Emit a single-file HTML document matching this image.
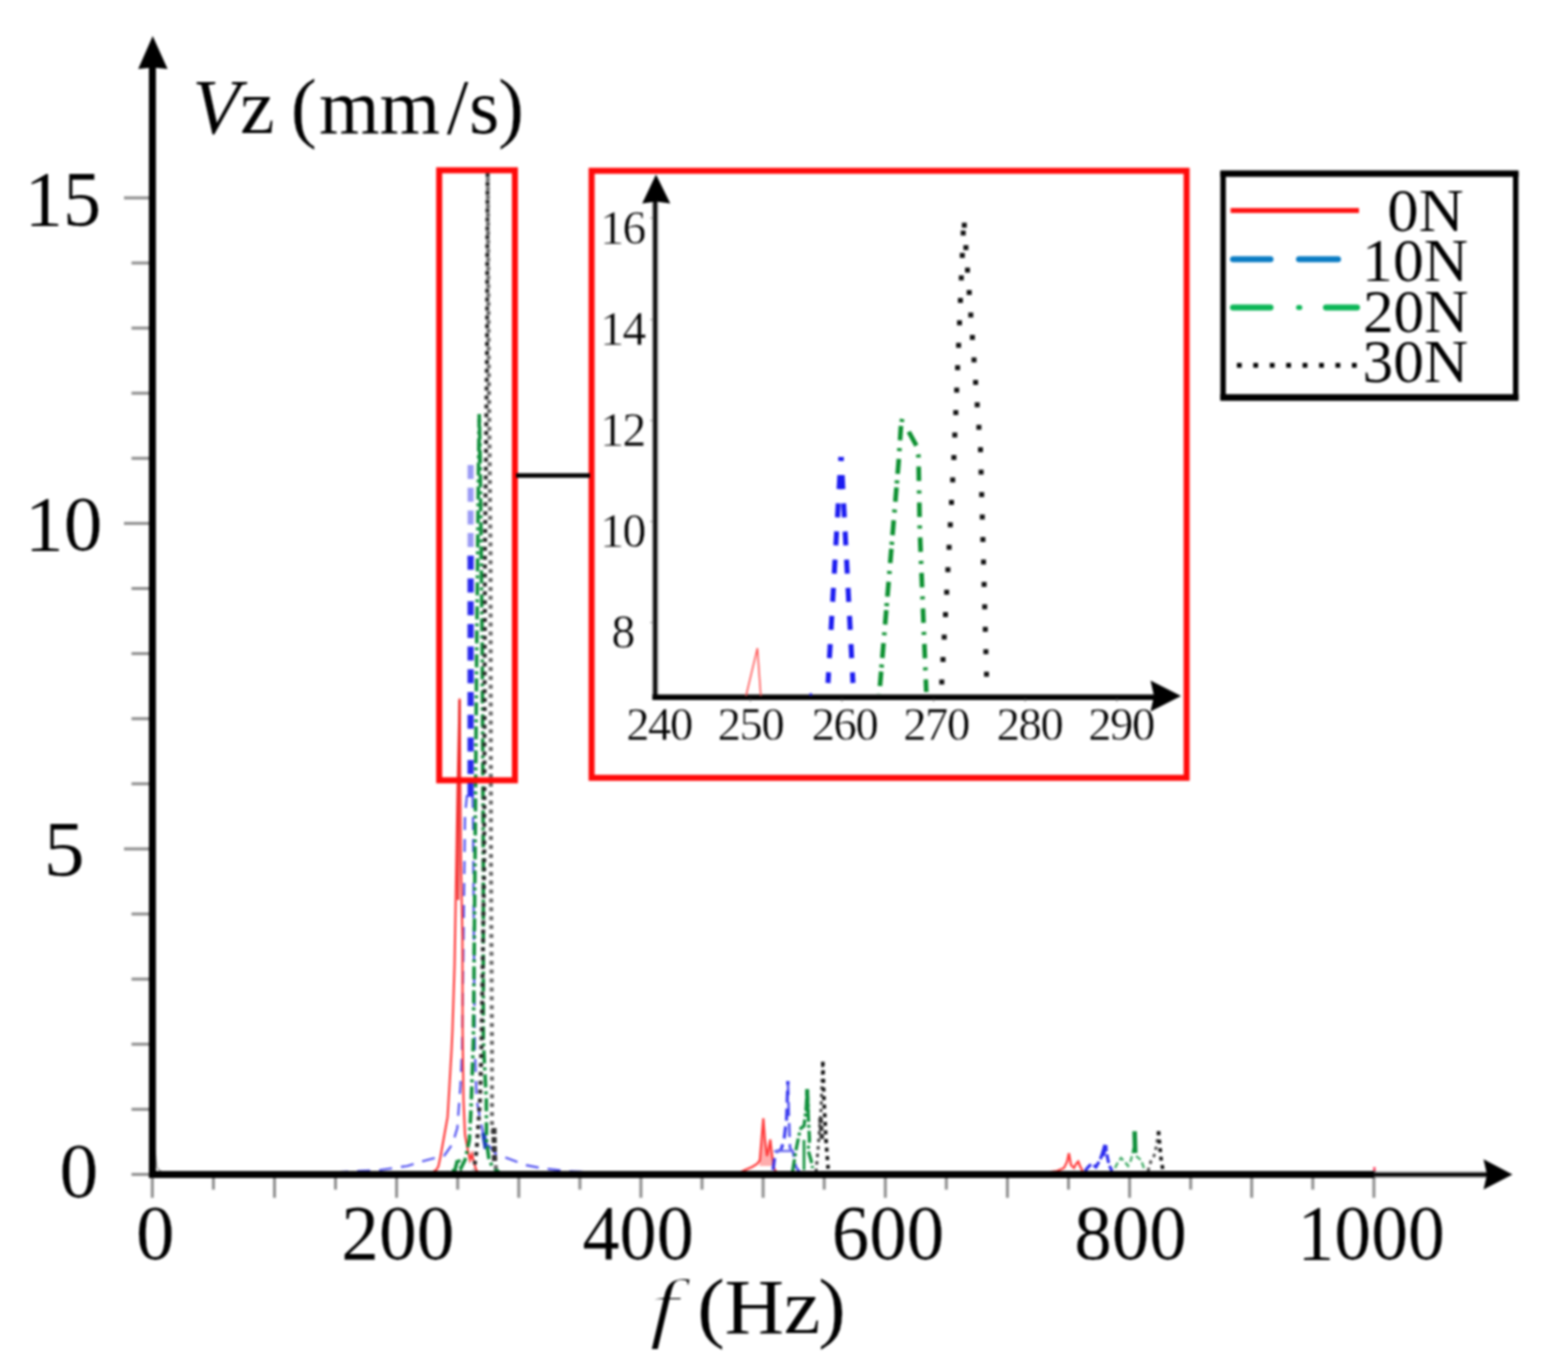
<!DOCTYPE html>
<html lang="en"><head><meta charset="utf-8"><title>Vz spectrum</title>
<style>html,body{margin:0;padding:0;background:#fff;}body{width:1547px;height:1367px;overflow:hidden;}svg{display:block;}text{font-family:"Liberation Serif", "DejaVu Serif", serif;fill:#000;}</style>
</head><body>
<svg width="1547" height="1367" viewBox="0 0 1547 1367">
<defs><filter id="soft" x="0" y="0" width="100%" height="100%" filterUnits="userSpaceOnUse" color-interpolation-filters="sRGB"><feGaussianBlur stdDeviation="0.8"/></filter></defs>
<rect x="0" y="0" width="1547" height="1367" fill="#ffffff"/>
<g filter="url(#soft)">
<g stroke="#909090" stroke-width="3" fill="none">
<line x1="131.5" y1="1174.4" x2="150" y2="1174.4"/>
<line x1="131.5" y1="1109.3" x2="150" y2="1109.3"/>
<line x1="131.5" y1="1044.2" x2="150" y2="1044.2"/>
<line x1="131.5" y1="979.1" x2="150" y2="979.1"/>
<line x1="131.5" y1="914.0" x2="150" y2="914.0"/>
<line x1="124.0" y1="848.9" x2="150" y2="848.9"/>
<line x1="131.5" y1="783.8" x2="150" y2="783.8"/>
<line x1="131.5" y1="718.7" x2="150" y2="718.7"/>
<line x1="131.5" y1="653.6" x2="150" y2="653.6"/>
<line x1="131.5" y1="588.5" x2="150" y2="588.5"/>
<line x1="124.0" y1="523.4" x2="150" y2="523.4"/>
<line x1="131.5" y1="458.3" x2="150" y2="458.3"/>
<line x1="131.5" y1="393.2" x2="150" y2="393.2"/>
<line x1="131.5" y1="328.1" x2="150" y2="328.1"/>
<line x1="131.5" y1="263.0" x2="150" y2="263.0"/>
<line x1="124.0" y1="197.9" x2="150" y2="197.9"/>
<line x1="152.3" y1="1176" x2="152.3" y2="1197.8"/>
<line x1="213.4" y1="1176" x2="213.4" y2="1189.6"/>
<line x1="274.5" y1="1176" x2="274.5" y2="1197.8"/>
<line x1="335.5" y1="1176" x2="335.5" y2="1189.6"/>
<line x1="396.6" y1="1176" x2="396.6" y2="1197.8"/>
<line x1="457.7" y1="1176" x2="457.7" y2="1189.6"/>
<line x1="518.8" y1="1176" x2="518.8" y2="1197.8"/>
<line x1="579.9" y1="1176" x2="579.9" y2="1189.6"/>
<line x1="640.9" y1="1176" x2="640.9" y2="1197.8"/>
<line x1="702.0" y1="1176" x2="702.0" y2="1189.6"/>
<line x1="763.1" y1="1176" x2="763.1" y2="1197.8"/>
<line x1="824.2" y1="1176" x2="824.2" y2="1189.6"/>
<line x1="885.3" y1="1176" x2="885.3" y2="1197.8"/>
<line x1="946.3" y1="1176" x2="946.3" y2="1189.6"/>
<line x1="1007.4" y1="1176" x2="1007.4" y2="1197.8"/>
<line x1="1068.5" y1="1176" x2="1068.5" y2="1189.6"/>
<line x1="1129.6" y1="1176" x2="1129.6" y2="1197.8"/>
<line x1="1190.7" y1="1176" x2="1190.7" y2="1189.6"/>
<line x1="1251.7" y1="1176" x2="1251.7" y2="1197.8"/>
<line x1="1312.8" y1="1176" x2="1312.8" y2="1189.6"/>
<line x1="1373.9" y1="1176" x2="1373.9" y2="1197.8"/>
</g>
<path d="M153.0,1172.0 L155.0,1150.0 L157.0,1168.0 L162.0,1172.0" fill="none" stroke="#999" stroke-width="1.2"/>
<path d="M470.6,465.0 L470.6,560.0" fill="none" stroke="#9a9af5" stroke-width="6" stroke-dasharray="14 8.7"/>
<path d="M470.6,555.8 L470.6,800.0" fill="none" stroke="#2a2aee" stroke-width="6.2" stroke-dasharray="14 8.7" stroke-dashoffset="0"/>
<path d="M467.0,795.0 L465.0,815.0 L464.0,900.0 L463.0,980.0 L462.0,1052.0 L460.5,1085.0 L457.3,1128.0 L452.5,1144.0 L444.4,1155.5 L423.5,1161.0 L407.4,1166.0 L380.0,1170.0 L330.0,1172.5 L285.0,1173.5" fill="none" stroke="#2a2aee" stroke-width="2.2" stroke-dasharray="13 9" opacity="0.8"/>
<path d="M472.5,795.0 L473.0,815.0 L473.6,900.0 L474.2,980.0 L475.0,1052.0 L476.6,1100.0 L479.8,1117.0 L484.7,1141.0 L496.0,1154.0 L508.8,1158.7 L525.0,1165.0 L541.0,1168.0 L565.0,1171.0 L610.0,1173.5" fill="none" stroke="#2a2aee" stroke-width="2.2" stroke-dasharray="13 9" opacity="0.8"/>
<path d="M483.4,1133.0 L486.0,1149.0" fill="none" stroke="#1d3fc0" stroke-width="4.6"/>
<path d="M425.0,1173.5 L433.0,1172.0 L437.0,1169.0 L438.5,1166.0 L440.4,1157.0 L444.0,1137.0 L447.6,1117.0 L449.5,1085.0 L451.6,1049.0 L452.5,1029.0 L454.6,964.0 L455.9,887.0 L457.7,783.0 L459.6,698.5 L460.3,783.0 L460.9,861.0 L462.4,938.0 L462.6,1029.0 L463.5,1100.0 L465.0,1135.0 L467.8,1150.0 L470.0,1160.0 L472.0,1154.0 L474.0,1163.0 L476.6,1171.0 L482.0,1173.5" fill="none" stroke="#ff3434" stroke-width="2.1"/>
<path d="M459.6,700.0 L458.6,800.0 L458.2,900.0" fill="none" stroke="#e82424" stroke-width="2.0"/>
<path d="M479.3,414.4 L479.3,462.0" fill="none" stroke="#0f8f3a" stroke-width="2.6"/>
<path d="M479.3,414.4 L478.6,460.0 L476.7,650.0 L475.0,865.0 L473.4,1040.0 L471.0,1110.0 L469.4,1140.0 L465.0,1160.0 L461.0,1168.0 L458.0,1158.0 L455.0,1170.0 L445.0,1173.5" fill="none" stroke="#0f8f3a" stroke-width="3.5" stroke-dasharray="13 4 3 4"/>
<path d="M479.3,414.4 L480.2,460.0 L482.2,650.0 L483.3,865.0 L483.3,1040.0 L486.3,1100.0 L486.5,1140.0 L489.0,1160.0 L492.7,1167.0 L500.0,1173.0" fill="none" stroke="#0f8f3a" stroke-width="3.5" stroke-dasharray="13 4 3 4" stroke-dashoffset="12"/>
<path d="M487.6,173.0 L487.0,350.0 L485.0,550.0 L484.2,865.0 L481.4,1050.0 L480.0,1100.0 L476.6,1150.0 L474.0,1170.0" fill="none" stroke="#2a2a2a" stroke-width="4" stroke-dasharray="4 4.9"/>
<path d="M487.8,173.0 L488.6,350.0 L490.5,550.0 L491.0,865.0 L492.0,1050.0 L492.0,1125.0 L494.3,1145.0 L496.0,1170.0" fill="none" stroke="#6a6a6a" stroke-width="4" stroke-dasharray="4 4.9" stroke-dashoffset="4.4"/>
<path d="M494.0,1128.0 L494.5,1162.0" fill="none" stroke="#333" stroke-width="5" stroke-dasharray="6 3"/>
<path d="M759.5,1166 L761.5,1140 L763.3,1119 L765.2,1140 L767,1156 L768.5,1150 L770.3,1140 L772,1155 L773.5,1166 Z" fill="#ff4a4a" fill-opacity="0.45"/>
<path d="M738.0,1173.5 L745.0,1170.0 L752.0,1167.0 L757.0,1164.0 L759.8,1160.5 L761.5,1140.0 L763.3,1118.4 L765.0,1140.0 L767.0,1156.0 L768.5,1150.0 L770.3,1139.5 L772.0,1155.0 L774.0,1168.0 L776.2,1172.0" fill="none" stroke="#ff3b3b" stroke-width="2.2"/>
<path d="M773.0,1170.0 L775.5,1152.0 L781.0,1150.0 L784.0,1140.0 L786.5,1120.0 L787.9,1081.0" fill="none" stroke="#2a2aee" stroke-width="3.2" stroke-dasharray="12 6" stroke-dashoffset="0" opacity="0.9"/>
<path d="M787.9,1081.0 L789.0,1120.0 L790.0,1148.0 L793.0,1152.0 L796.0,1167.0 L800.0,1172.5" fill="none" stroke="#2a2aee" stroke-width="2.6" stroke-dasharray="14 7" opacity="0.8"/>
<path d="M775.0,1151.0 L792.6,1151.0" fill="none" stroke="#7070ee" stroke-width="2.4"/>
<path d="M792.6,1171.0 L796.0,1150.0 L799.0,1135.0 L801.0,1128.0 L804.0,1126.0 L806.0,1110.0 L807.2,1089.2 L808.5,1120.0 L809.5,1140.0 L808.0,1150.0 L811.0,1160.0 L812.5,1168.0" fill="none" stroke="#0f8f3a" stroke-width="3.2" stroke-dasharray="12 3 3 3" stroke-dashoffset="0"/>
<path d="M807.2,1089.2 L807.6,1112.0" fill="none" stroke="#0f8f3a" stroke-width="4"/>
<path d="M804.0,1140.0 L804.0,1170.0" fill="none" stroke="#0f8f3a" stroke-width="2.6"/>
<path d="M816.0,1172.0 L818.0,1150.0 L819.5,1130.0 L821.0,1110.0 L822.8,1061.7" fill="none" stroke="#444" stroke-width="3" stroke-dasharray="3.5 4"/>
<path d="M822.8,1061.7 L824.0,1100.0 L826.0,1140.0 L828.3,1171.0" fill="none" stroke="#111" stroke-width="3.6" stroke-dasharray="4 4.6"/>
<path d="M820.5,1118.0 L822.0,1140.0" fill="none" stroke="#333" stroke-width="4.5" stroke-dasharray="5 3"/>
<path d="M1036.0,1173.5 L1050.0,1172.0 L1057.0,1171.0 L1064.0,1168.0 L1067.0,1162.0 L1068.9,1153.3 L1071.0,1165.0 L1074.0,1168.0 L1076.0,1164.0 L1078.2,1161.5 L1080.0,1166.0 L1083.0,1172.0" fill="none" stroke="#ff3b3b" stroke-width="2.2"/>
<path d="M1085.0,1171.0 L1089.0,1166.0 L1092.0,1164.0 L1096.0,1167.0 L1100.0,1160.0 L1103.0,1152.0 L1105.5,1145.2 L1107.0,1155.0 L1109.0,1165.0 L1112.0,1171.0" fill="none" stroke="#2a2aee" stroke-width="3" stroke-dasharray="9 3"/>
<path d="M1102.5,1156.0 L1105.5,1145.2" fill="none" stroke="#2a2aee" stroke-width="4.5"/>
<path d="M1115.0,1168.0 L1117.0,1164.0 L1121.0,1158.0 L1125.0,1162.0 L1128.0,1166.0 L1131.0,1160.0 L1133.5,1148.0" fill="none" stroke="#3aa860" stroke-width="2.2" stroke-dasharray="6 3"/>
<path d="M1134.6,1131.2 L1135.2,1153.0" fill="none" stroke="#0f8f3a" stroke-width="4.6"/>
<path d="M1136.0,1156.0 L1141.0,1160.0 L1145.0,1171.0" fill="none" stroke="#3aa860" stroke-width="2.2" stroke-dasharray="6 3"/>
<path d="M1148.0,1171.0 L1151.0,1161.0 L1154.0,1156.0 L1156.5,1146.0 L1158.5,1131.2" fill="none" stroke="#555" stroke-width="3" stroke-dasharray="3.5 4"/>
<path d="M1158.5,1131.2 L1160.0,1148.0 L1161.0,1158.0 L1163.0,1171.0" fill="none" stroke="#111" stroke-width="3.6" stroke-dasharray="4 4.5"/>
<path d="M1374.4,1167.0 L1374.4,1172.0" fill="none" stroke="#ff4060" stroke-width="2.4"/>
<g stroke="#000" fill="none">
<line x1="152.4" y1="60" x2="152.4" y2="1178" stroke-width="7"/>
<line x1="149" y1="1174.5" x2="1376" y2="1174.5" stroke-width="7"/>
<line x1="1374" y1="1174.6" x2="1490" y2="1174.6" stroke-width="6.4" stroke="#8c8c8c"/>
<line x1="1370" y1="1174.6" x2="1490" y2="1174.6" stroke-width="3.4"/>
</g>
<path d="M152.7,36 L167.6,69 L152.7,67.4 L138.2,69 Z" fill="#000"/>
<path d="M1512.5,1174.4 L1483.5,1189.5 L1487,1174.4 L1483.5,1159.3 Z" fill="#000"/>
<g stroke="#ff0a0a" stroke-width="6" fill="none">
<rect x="439.2" y="170.3" width="75.7" height="610"/>
<rect x="591.6" y="170.8" width="595" height="607"/>
</g>
<line x1="516" y1="475.6" x2="590" y2="475.6" stroke="#000" stroke-width="4.5"/>
<g stroke="#000" fill="none">
<line x1="655.2" y1="200" x2="655.2" y2="695" stroke-width="6.4" stroke="#9a9a9a"/>
<line x1="655.2" y1="195" x2="655.2" y2="700" stroke-width="3.3"/>
<line x1="652.3" y1="697.2" x2="1160" y2="697.2" stroke-width="5.6"/>
</g>
<path d="M656,174.6 L670.3,203.4 L656,201.4 L642.2,203.4 Z" fill="#000"/>
<path d="M1181,696 L1150.5,711.5 L1154,696 L1150.5,680.5 Z" fill="#000"/>
<g stroke="#555" stroke-width="1.4" opacity="0.45">
<line x1="650" y1="218.0" x2="653" y2="218.0"/>
<line x1="650" y1="319.6" x2="653" y2="319.6"/>
<line x1="650" y1="420.5" x2="653" y2="420.5"/>
<line x1="650" y1="521.5" x2="653" y2="521.5"/>
<line x1="650" y1="622.5" x2="653" y2="622.5"/>
<line x1="750.4" y1="698" x2="750.4" y2="702" />
<line x1="842.0" y1="698" x2="842.0" y2="702" />
<line x1="933.6" y1="698" x2="933.6" y2="702" />
<line x1="1025.2" y1="698" x2="1025.2" y2="702" />
<line x1="1116.8" y1="698" x2="1116.8" y2="702" />
</g>
<path d="M746.0,696.0 L757.4,648.1 L760.8,696.0" fill="none" stroke="#ff5050" stroke-width="1.5"/>
<path d="M840.9,457.0 L828.0,683.0" fill="none" stroke="#1c1cf0" stroke-width="5" stroke-dasharray="14 14.2" stroke-dashoffset="10"/>
<path d="M841.2,457.0 L853.0,683.0" fill="none" stroke="#1c1cf0" stroke-width="5" stroke-dasharray="14 14.2" stroke-dashoffset="10"/>
<path d="M809.5,694.5 L812.0,694.5" fill="none" stroke="#1c1cf0" stroke-width="2.5"/>
<path d="M902.2,419.0 L901.0,425.6 L898.6,462.0 L880.0,685.6 L879.0,694.0" fill="none" stroke="#0c9030" stroke-width="4.6" stroke-dasharray="3 4 14.5 7.8 3 7.8 15 6.5" stroke-dashoffset="0"/>
<path d="M880.5,520.0 L879.5,694.0" fill="none" stroke="#0c9030" stroke-width="0"/>
<path d="M905.0,424.0 L908.9,432.0 L916.7,446.3 L918.5,457.0 L919.8,530.0 L926.3,692.0" fill="none" stroke="#0c9030" stroke-width="4.6" stroke-dasharray="0 8.5 16 9 3 9 14.5 9.5 3 9 14.5 8.5 3 9 14.5 9 3 9 14.5 9 3 9 14.5 9 3 9 14.5 9 3 9 14.5 9" stroke-dashoffset="0"/>
<g>
<rect x="960.7" y="230.5" width="5.0" height="5.0" fill="#111"/>
<rect x="959.8" y="252.9" width="5.0" height="5.0" fill="#111"/>
<rect x="958.8" y="275.4" width="5.0" height="5.0" fill="#111"/>
<rect x="957.9" y="297.9" width="5.0" height="5.0" fill="#111"/>
<rect x="957.0" y="320.3" width="5.0" height="5.0" fill="#111"/>
<rect x="956.1" y="342.8" width="5.0" height="5.0" fill="#111"/>
<rect x="955.1" y="365.2" width="5.0" height="5.0" fill="#111"/>
<rect x="954.2" y="387.6" width="5.0" height="5.0" fill="#111"/>
<rect x="953.3" y="410.1" width="5.0" height="5.0" fill="#111"/>
<rect x="952.3" y="432.5" width="5.0" height="5.0" fill="#111"/>
<rect x="951.4" y="455.0" width="5.0" height="5.0" fill="#111"/>
<rect x="950.2" y="477.4" width="5.0" height="5.0" fill="#111"/>
<rect x="949.0" y="499.9" width="5.0" height="5.0" fill="#111"/>
<rect x="947.8" y="522.3" width="5.0" height="5.0" fill="#111"/>
<rect x="946.6" y="544.8" width="5.0" height="5.0" fill="#111"/>
<rect x="945.4" y="567.2" width="5.0" height="5.0" fill="#111"/>
<rect x="944.2" y="589.7" width="5.0" height="5.0" fill="#111"/>
<rect x="943.0" y="612.1" width="5.0" height="5.0" fill="#111"/>
<rect x="941.7" y="634.6" width="5.0" height="5.0" fill="#111"/>
<rect x="940.5" y="657.0" width="5.0" height="5.0" fill="#111"/>
<rect x="939.3" y="679.5" width="5.0" height="5.0" fill="#111"/>
<rect x="961.8" y="222.7" width="5.0" height="5.0" fill="#111"/>
<rect x="963.4" y="245.1" width="5.0" height="5.0" fill="#111"/>
<rect x="965.0" y="267.6" width="5.0" height="5.0" fill="#111"/>
<rect x="966.7" y="290.0" width="5.0" height="5.0" fill="#111"/>
<rect x="968.3" y="312.5" width="5.0" height="5.0" fill="#111"/>
<rect x="969.9" y="334.9" width="5.0" height="5.0" fill="#111"/>
<rect x="971.5" y="357.4" width="5.0" height="5.0" fill="#111"/>
<rect x="973.1" y="379.9" width="5.0" height="5.0" fill="#111"/>
<rect x="974.7" y="402.3" width="5.0" height="5.0" fill="#111"/>
<rect x="976.4" y="424.8" width="5.0" height="5.0" fill="#111"/>
<rect x="978.0" y="447.2" width="5.0" height="5.0" fill="#111"/>
<rect x="978.6" y="469.6" width="5.0" height="5.0" fill="#111"/>
<rect x="979.2" y="492.1" width="5.0" height="5.0" fill="#111"/>
<rect x="979.8" y="514.5" width="5.0" height="5.0" fill="#111"/>
<rect x="980.4" y="537.0" width="5.0" height="5.0" fill="#111"/>
<rect x="981.0" y="559.5" width="5.0" height="5.0" fill="#111"/>
<rect x="981.6" y="581.9" width="5.0" height="5.0" fill="#111"/>
<rect x="982.2" y="604.3" width="5.0" height="5.0" fill="#111"/>
<rect x="982.8" y="626.8" width="5.0" height="5.0" fill="#111"/>
<rect x="983.4" y="649.2" width="5.0" height="5.0" fill="#111"/>
<rect x="984.0" y="671.7" width="5.0" height="5.0" fill="#111"/>
</g>
<rect x="1223.1" y="173.6" width="292.6" height="223.9" fill="#fff" stroke="#000" stroke-width="5.4"/>
<g stroke="#000" stroke-width="6.4"><line x1="1220.4" y1="173.6" x2="1518.4" y2="173.6"/><line x1="1220.4" y1="397.5" x2="1518.4" y2="397.5"/></g>
<line x1="1230.6" y1="210.4" x2="1359" y2="210.4" stroke="#ff1414" stroke-width="5"/>
<g stroke="#0a7cc4" stroke-width="6" stroke-linecap="round"><line x1="1233" y1="259.2" x2="1270.5" y2="259.2"/><line x1="1299" y1="259.2" x2="1338" y2="259.2"/></g>
<g stroke="#0cb657" stroke-width="6" stroke-linecap="round"><line x1="1233" y1="307.5" x2="1270.5" y2="307.5"/><line x1="1298.6" y1="307.5" x2="1299.8" y2="307.5" stroke-width="5"/><line x1="1326" y1="307.5" x2="1357" y2="307.5"/></g>
<g fill="#000">
<rect x="1236.9" y="362.9" width="4.8" height="4.8"/>
<rect x="1253.3" y="362.9" width="4.8" height="4.8"/>
<rect x="1269.8" y="362.9" width="4.8" height="4.8"/>
<rect x="1286.2" y="362.9" width="4.8" height="4.8"/>
<rect x="1302.6" y="362.9" width="4.8" height="4.8"/>
<rect x="1319.1" y="362.9" width="4.8" height="4.8"/>
<rect x="1335.5" y="362.9" width="4.8" height="4.8"/>
<rect x="1351.9" y="362.9" width="4.8" height="4.8"/>
</g>
<text transform="translate(24.83 224.50) scale(0.977 1)" font-size="78" stroke="#fff" stroke-width="0.15">15</text>
<text transform="translate(25.04 549.80) scale(0.990 1)" font-size="78" stroke="#fff" stroke-width="0.15">10</text>
<text transform="translate(43.79 874.90) scale(1.051 1)" font-size="78" stroke="#fff" stroke-width="0.15">5</text>
<text transform="translate(59.39 1197.40) scale(0.995 1)" font-size="78" stroke="#fff" stroke-width="0.15">0</text>
<text transform="translate(136.11 1259.30) scale(0.989 1)" font-size="78" stroke="#fff" stroke-width="0.15">0</text>
<text transform="translate(341.29 1259.30) scale(0.967 1)" font-size="78" stroke="#fff" stroke-width="0.15">200</text>
<text transform="translate(582.52 1259.30) scale(0.951 1)" font-size="78" stroke="#fff" stroke-width="0.15">400</text>
<text transform="translate(831.81 1259.30) scale(0.962 1)" font-size="78" stroke="#fff" stroke-width="0.15">600</text>
<text transform="translate(1074.18 1259.30) scale(0.963 1)" font-size="78" stroke="#fff" stroke-width="0.15">800</text>
<text transform="translate(1297.56 1259.30) scale(0.944 1)" font-size="78" stroke="#fff" stroke-width="0.15">1000</text>
<text x="192.2 240.1" y="133.3" font-size="78" stroke="#fff" stroke-width="0.15"><tspan font-style="italic">V</tspan>z</text>
<text x="290.8 319.0 379.6 446.8 469.0 498.1" y="133.3" font-size="78" stroke="#fff" stroke-width="0.15">(mm/s)</text>
<text transform="translate(648.93 1332.70) scale(1.374 1)" font-size="78" font-style="italic" stroke="#fff" stroke-width="1.9">f</text>
<text transform="scale(1.06 1)" x="657.9 683.5 739.3 771.9" y="1332.7" font-size="78" stroke="#fff" stroke-width="0.15">(Hz)</text>
<text x="622.5" y="244.2" font-size="47.5" text-anchor="middle" letter-spacing="-1.6" fill="#1c1c1c" stroke="#fff" stroke-width="0.4">16</text>
<text x="622.5" y="345.2" font-size="47.5" text-anchor="middle" letter-spacing="-1.6" fill="#1c1c1c" stroke="#fff" stroke-width="0.4">14</text>
<text x="622.5" y="446.2" font-size="47.5" text-anchor="middle" letter-spacing="-1.6" fill="#1c1c1c" stroke="#fff" stroke-width="0.4">12</text>
<text x="622.5" y="547.2" font-size="47.5" text-anchor="middle" letter-spacing="-1.6" fill="#1c1c1c" stroke="#fff" stroke-width="0.4">10</text>
<text x="622.5" y="648.2" font-size="47.5" text-anchor="middle" letter-spacing="-1.6" fill="#1c1c1c" stroke="#fff" stroke-width="0.4">8</text>
<text x="659.0" y="740.4" font-size="46.5" text-anchor="middle" letter-spacing="-1.4" fill="#1c1c1c" stroke="#fff" stroke-width="0.4">240</text>
<text x="750.5" y="740.4" font-size="46.5" text-anchor="middle" letter-spacing="-1.4" fill="#1c1c1c" stroke="#fff" stroke-width="0.4">250</text>
<text x="844.5" y="740.4" font-size="46.5" text-anchor="middle" letter-spacing="-1.4" fill="#1c1c1c" stroke="#fff" stroke-width="0.4">260</text>
<text x="936.0" y="740.4" font-size="46.5" text-anchor="middle" letter-spacing="-1.4" fill="#1c1c1c" stroke="#fff" stroke-width="0.4">270</text>
<text x="1029.5" y="740.4" font-size="46.5" text-anchor="middle" letter-spacing="-1.4" fill="#1c1c1c" stroke="#fff" stroke-width="0.4">280</text>
<text x="1121.0" y="740.4" font-size="46.5" text-anchor="middle" letter-spacing="-1.4" fill="#1c1c1c" stroke="#fff" stroke-width="0.4">290</text>
<text transform="translate(1387.15 231.00) scale(1.011 1)" font-size="62" stroke="#fff" stroke-width="0.15">0N</text>
<text transform="translate(1362.10 281.30) scale(0.995 1)" font-size="62" stroke="#fff" stroke-width="0.15">10N</text>
<text transform="translate(1362.90 331.80) scale(0.988 1)" font-size="62" stroke="#fff" stroke-width="0.15">20N</text>
<text transform="translate(1362.58 382.20) scale(0.991 1)" font-size="62" stroke="#fff" stroke-width="0.15">30N</text>
</g>
</svg>
</body></html>
